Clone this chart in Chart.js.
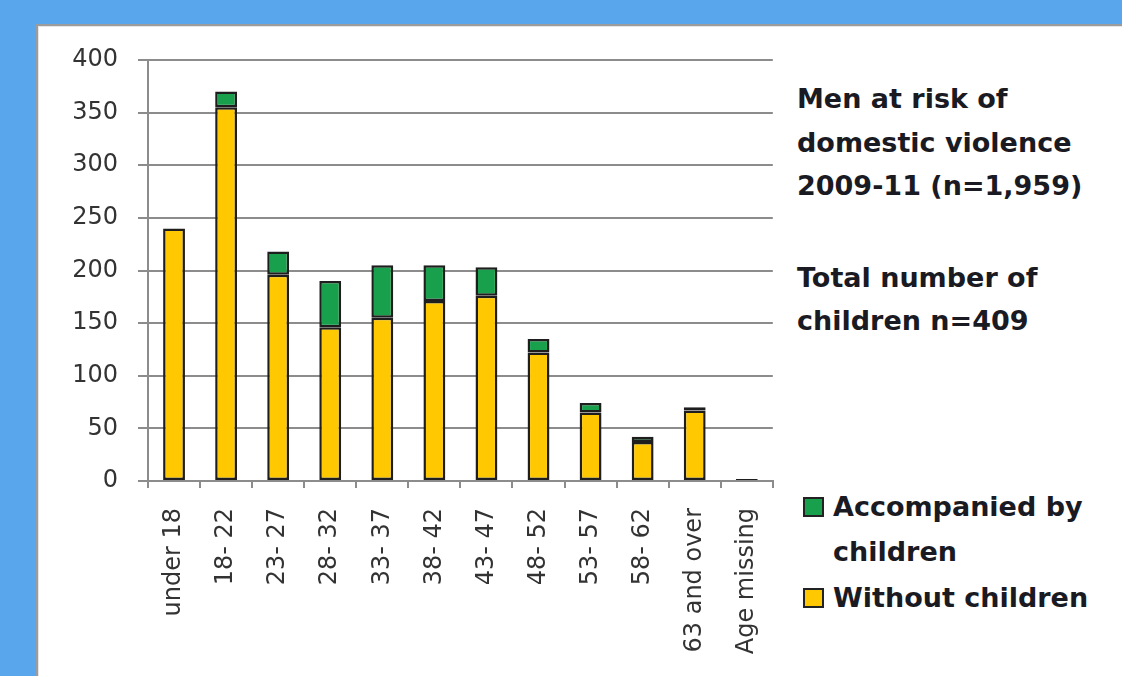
<!DOCTYPE html>
<html>
<head>
<meta charset="utf-8">
<script src="https://cdn.jsdelivr.net/npm/chart.js@4.4.1/dist/chart.umd.min.js"></script>
<style>
  html, body { margin: 0; padding: 0; }
  body { width: 1122px; height: 676px; background: #5aa6ec; position: relative; overflow: hidden; font-family: "DejaVu Sans", sans-serif; }
  #panel { position: absolute; left: 36px; top: 24px; width: 1100px; height: 700px; background: #fff;
           border: 2px solid #9c9c9c; box-shadow: inset 0 0 0 1px #e6e6e6; }
  #chart-wrap { position: absolute; left: 37px; top: 25px; width: 759px; height: 651px; }
  .note { position: absolute; left: 797px; font-weight: bold; font-size: 27px; line-height: 43.5px; color: #1a1a22; white-space: nowrap; }
  #legend { position: absolute; left: 803px; top: 483.6px; }
  .leg-item { display: flex; align-items: flex-start; }
  .leg-box { width: 21px; height: 20px; box-sizing: border-box; border: 2px solid #222; margin-top: 13px; margin-right: 9px; flex: none; }
  .leg-text { width: 270px; font-weight: bold; font-size: 27px; line-height: 45.5px; color: #1a1a22; }
</style>
</head>
<body>
<div id="panel"></div>
<div id="chart-wrap"><canvas id="chart" width="759" height="651"></canvas></div>
<div class="note" style="top:77px">Men at risk of<br>domestic violence<br>2009-11 (n=1,959)</div>
<div class="note" style="top:255.5px">Total number of<br>children n=409</div>
<div id="legend"></div>
<script>
const ageGroups = ['under 18', '18- 22', '23- 27', '28- 32', '33- 37', '38- 42', '43- 47',
    '48- 52', '53- 57', '58- 62', '63 and over', 'Age missing'];
const withoutChildren = [240, 355, 196, 146, 155, 171, 176, 122, 65, 37, 67, 1];
const withChildren = [null, 15, 22, 44, 50, 34, 27, 13, 9, 5, 3, 1];
const yTicks = [0, 50, 100, 150, 200, 250, 300, 350, 400];

const yellow = '#ffc800';
const green = '#18a04c';
const gridGrey = '#8c8c8c';

const ctx = document.getElementById('chart').getContext('2d');
const chart = new Chart(ctx, {
    type: 'bar',
    data: {
        labels: ageGroups,
        datasets: [{
            label: 'Without children',
            data: withoutChildren,
            backgroundColor: yellow,
            borderColor: '#1e1e1e',
            borderWidth: 2.5,
            borderSkipped: false
        }, {
            label: 'Accompanied by children',
            data: withChildren,
            backgroundColor: green,
            borderColor: '#1e1e1e',
            borderWidth: 2.5,
            borderSkipped: false
        }]
    },
    options: {
        responsive: false,
        animation: false,
        layout: { padding: { top: 35, right: 10, left: 0, bottom: 0 } },
        plugins: {
            legend: { display: false },
            tooltip: { enabled: false }
        },
        datasets: { bar: { barPercentage: 0.42, categoryPercentage: 1 } },
        scales: {
            x: {
                stacked: true,
                grid: { drawOnChartArea: false, drawTicks: true, tickLength: 7, color: gridGrey, lineWidth: 2 },
                border: { display: true, color: gridGrey, width: 2 },
                ticks: {
                    autoSkip: false, maxRotation: 90, minRotation: 90, padding: 20,
                    color: '#333', font: { family: 'DejaVu Sans', size: 24 }
                },
                afterFit: (scale) => { scale.height = 195; }
            },
            y: {
                stacked: true,
                min: 0,
                max: 400,
                afterBuildTicks: (scale) => { scale.ticks = yTicks.map(v => ({ value: v })); },
                grid: { color: gridGrey, lineWidth: 2, tickLength: 10 },
                border: { display: true, color: gridGrey, width: 2 },
                ticks: {
                    padding: 20,
                    color: '#333', font: { family: 'DejaVu Sans', size: 24 }
                },
                afterFit: (scale) => { scale.width = 111; }
            }
        }
    }
});

// legend built from the datasets, top series first like the original
const legend = document.getElementById('legend');
chart.data.datasets.slice().reverse().forEach(ds => {
    const item = document.createElement('div');
    item.className = 'leg-item';
    item.innerHTML = `<div class="leg-box" style="background:${ds.backgroundColor}"></div>` +
        `<div class="leg-text">${ds.label}</div>`;
    legend.appendChild(item);
});
</script>
</body>
</html>
